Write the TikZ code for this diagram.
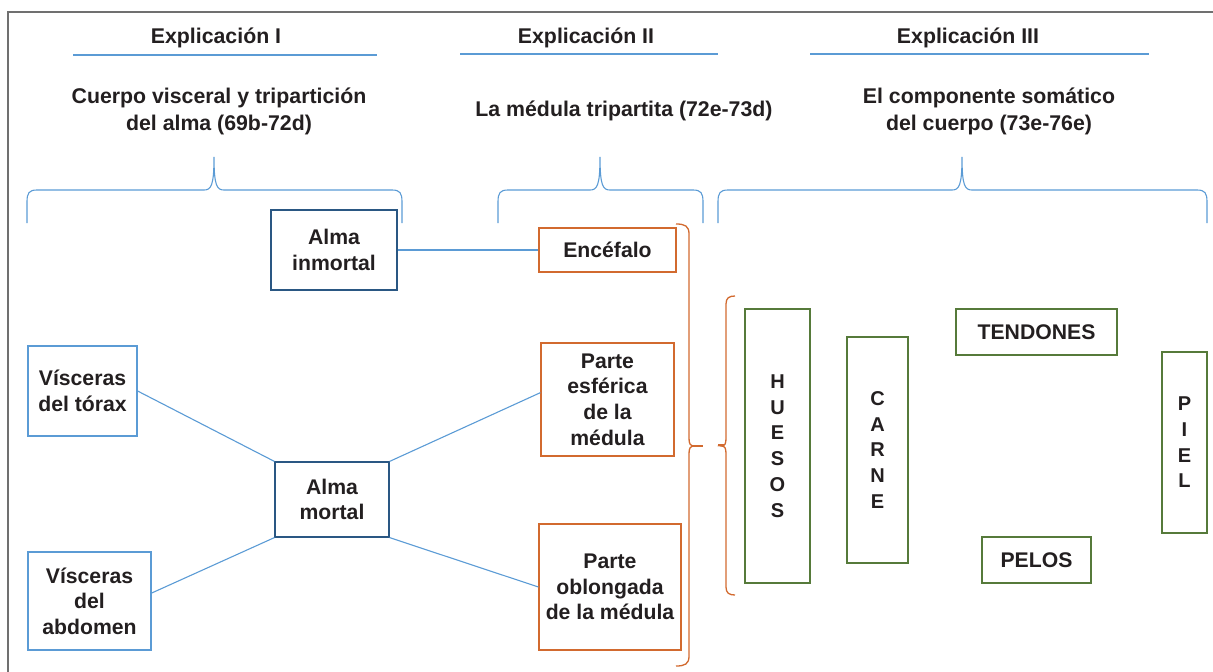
\documentclass[tikz,border=0pt]{standalone}
\usepackage{fontspec}
\setmainfont{Liberation Sans}
\usetikzlibrary{calc}
\definecolor{lblue}{HTML}{5B9BD5}
\definecolor{dblue}{HTML}{2A5783}
\definecolor{orng}{HTML}{D26A2F}
\definecolor{grn}{HTML}{567A3A}
\definecolor{txt}{HTML}{231F20}
\definecolor{frame}{HTML}{707070}
\begin{document}
\begin{tikzpicture}[x=1pt,y=-1pt,
  box/.style={draw, line width=1.2pt, align=center, inner sep=0pt, text=txt,
    font={\bfseries\fontsize{21.2}{25.6}\selectfont}},
  bbox/.style={box, draw=lblue},
  dbox/.style={box, draw=dblue},
  obox/.style={box, draw=orng},
  gbox/.style={box, draw=grn},
  vbox/.style={gbox, font={\bfseries\fontsize{20}{25.7}\selectfont}},
  head/.style={anchor=base, text=txt, font={\bfseries\fontsize{21.3}{27}\selectfont}},
  sub/.style={align=center, text=txt, inner sep=0pt, font={\bfseries\fontsize{21.3}{27}\selectfont}},
  link/.style={draw=lblue, line width=1.1pt},
  bbrace/.style={draw=lblue, line width=1.1pt},
  obrace/.style={draw=orng, line width=1.3pt}]
\useasboundingbox (0,0) rectangle (1213,672);
% frame
\draw[frame, line width=1.3pt] (8,672) -- (8,12) -- (1213,12);
% headers
\node[head] (h1) at (216,43) {Explicación I};
\node[head] (h2) at (586,43) {Explicación II};
\node[head] (h3) at (968,43) {Explicación III};
\draw[link] (73,55) -- (377,55);
\draw[link] (460,54) -- (718,54);
\draw[link] (810,54) -- (1149,54);
% subtitles
\node[sub] (s1) at (219,111.5) {Cuerpo visceral y tripartición\\del alma (69b-72d)};
\node[head] (s2) at (624,116) {La médula tripartita (72e-73d)};
\node[sub] (s3) at (989,111.5) {El componente somático\\del cuerpo (73e-76e)};
% blue braces
\draw[bbrace] (27,223) -- (27,202) .. controls (27,193) and (29,190) .. (37,190) -- (204,190) .. controls (211,190) and (214,186) .. (214,157) .. controls (214,186) and (217,190) .. (224,190) -- (392,190) .. controls (400,190) and (402,193) .. (402,202) -- (402,223);
\draw[bbrace] (498,223) -- (498,202) .. controls (498,193) and (500,190) .. (508,190) -- (590,190) .. controls (597,190) and (600,186) .. (600,157) .. controls (600,186) and (603,190) .. (610,190) -- (693,190) .. controls (701,190) and (703,193) .. (703,202) -- (703,223);
\draw[bbrace] (718,223) -- (718,202) .. controls (718,193) and (720,190) .. (728,190) -- (952,190) .. controls (959,190) and (962,186) .. (962,157) .. controls (962,186) and (965,190) .. (972,190) -- (1197,190) .. controls (1205,190) and (1207,193) .. (1207,202) -- (1207,223);
% orange braces
\draw[obrace] (676,224) .. controls (685,224) and (689,226) .. (689,234) -- (689,438) .. controls (689,444) and (690,446) .. (695,446) .. controls (690,446) and (689,448) .. (689,454) -- (689,656) .. controls (689,664) and (685,666) .. (676,666);
\draw[orng, line width=2.4pt] (692,446) -- (703,446);
\draw[obrace] (735,296) .. controls (729,296) and (726,298) .. (726,304) -- (726,438) .. controls (726,444) and (725,446) .. (721,446) .. controls (725,446) and (726,448) .. (726,454) -- (726,587) .. controls (726,593) and (729,595) .. (735,595);
\draw[orng, line width=2.4pt] (718,445) -- (724,445);
% boxes
\node[dbox, minimum width=126pt, minimum height=80pt] (inm) at (334,250) {Alma\\inmortal};
\node[obox, minimum width=137pt, minimum height=44pt] (enc) at (607.5,250) {Encéfalo};
\node[bbox, minimum width=109pt, minimum height=90pt] (vt) at (82.5,391) {Vísceras\\del tórax};
\node[dbox, minimum width=114pt, minimum height=75pt] (am) at (332,499.5) {Alma\\mortal};
\node[bbox, minimum width=123pt, minimum height=98pt] (va) at (89.5,601) {Vísceras\\del\\abdomen};
\node[obox, minimum width=133pt, minimum height=113pt] (pe) at (607.5,399.5) {Parte\\esférica\\de la\\médula};
\node[obox, minimum width=142pt, minimum height=126pt] (po) at (610,587) {Parte\\oblongada\\de la médula};
\node[vbox, minimum width=65pt, minimum height=274pt] (hu) at (777.5,446) {H\\U\\E\\S\\O\\S};
\node[vbox, minimum width=61pt, minimum height=226pt] (ca) at (877.5,450) {C\\A\\R\\N\\E};
\node[gbox, minimum width=161pt, minimum height=46pt] (te) at (1036.5,332) {TENDONES};
\node[vbox, minimum width=45pt, minimum height=181pt] (pi) at (1184.5,442.5) {P\\I\\E\\L};
\node[gbox, minimum width=109pt, minimum height=46pt] (pel) at (1036.5,560) {PELOS};
% connectors
\draw[link] (inm.east) -- (enc.west);
\draw[link] (vt.east) -- (am.north west);
\draw[link] ($(va.north east)!0.42!(va.south east)$) -- (am.south west);
\draw[link] (am.north east) -- ($(pe.north west)!0.44!(pe.south west)$);
\draw[link] (am.south east) -- (po.west);
\end{tikzpicture}
\end{document}
